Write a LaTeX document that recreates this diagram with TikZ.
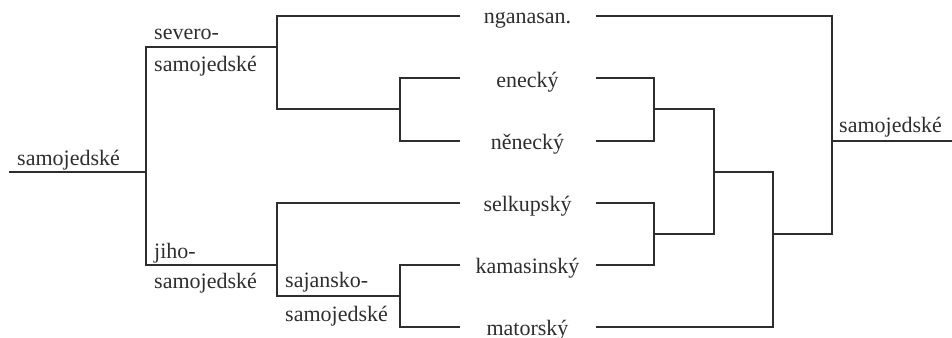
\documentclass[tikz,border=0pt]{standalone}
\usepackage{fontspec}
\setmainfont{Liberation Serif}
\definecolor{ink}{HTML}{2E2E2E}
\begin{document}
\begin{tikzpicture}[x=1pt,y=1pt,
  br/.style={draw=ink,line width=1.7pt,line join=miter},
  lab/.style={inner sep=0pt,text=ink,font=\fontsize{22}{26}\selectfont,anchor=base west},
  leaf/.style={inner sep=0pt,text=ink,font=\fontsize{22}{26}\selectfont,anchor=base}]
\useasboundingbox (0,0) rectangle (952,-337);
% left tree coordinates
\coordinate (root) at (9,-172);
\coordinate (a) at (146,-172);
\coordinate (sev) at (277,-47);
\coordinate (jih) at (277,-265);
\coordinate (sev2) at (400,-109);
\coordinate (saj) at (400,-296);
\coordinate (lng) at (460,-16);
\coordinate (len) at (460,-78);
\coordinate (lne) at (460,-141);
\coordinate (lse) at (460,-203);
\coordinate (lka) at (460,-265);
\coordinate (lma) at (460,-327);
% right tree coordinates
\coordinate (rng) at (596,-16);
\coordinate (ren) at (596,-78);
\coordinate (rne) at (596,-141);
\coordinate (rse) at (596,-203);
\coordinate (rka) at (596,-265);
\coordinate (rma) at (596,-327);
\coordinate (j1) at (654,-109);
\coordinate (j2) at (654,-234);
\coordinate (j3) at (714,-172);
\coordinate (j4) at (773,-234);
\coordinate (j5) at (832,-141);
\coordinate (out) at (952,-141);
% left branches
\draw[br] (root) -- (a);
\draw[br] (sev) -| (a) |- (jih);
\draw[br] (lng) -| (sev) |- (sev2);
\draw[br] (len) -| (sev2) |- (lne);
\draw[br] (lse) -| (jih) |- (saj);
\draw[br] (lka) -| (saj) |- (lma);
% right branches
\draw[br] (ren) -| (j1) |- (rne);
\draw[br] (rse) -| (j2) |- (rka);
\draw[br] (j1) -| (j3) |- (j2);
\draw[br] (j3) -| (j4) |- (rma);
\draw[br] (rng) -| (j5) |- (j4);
\draw[br] (j5) -- (out);
% labels
\node[lab] (troot) at (17,-165) {samojedské};
\node[lab] (tsev1) at (154,-40) {severo-};
\node[lab] (tsev2) at (154,-71) {samojedské};
\node[lab] (tjih1) at (154,-258) {jiho-};
\node[lab] (tjih2) at (154,-288) {samojedské};
\node[lab] (tsaj1) at (285,-287) {sajansko-};
\node[lab] (tsaj2) at (285,-321) {samojedské};
\node[lab] (tout) at (839,-132) {samojedské};
\node[leaf] (ng) at (527.5,-24) {nganasan.};
\node[leaf] (en) at (527.5,-87) {enecký};
\node[leaf] (ne) at (527.5,-149) {něnecký};
\node[leaf] (se) at (527.5,-211) {selkupský};
\node[leaf] (ka) at (527.5,-273) {kamasinský};
\node[leaf] (ma) at (527.5,-335) {matorský};
\end{tikzpicture}
\end{document}
